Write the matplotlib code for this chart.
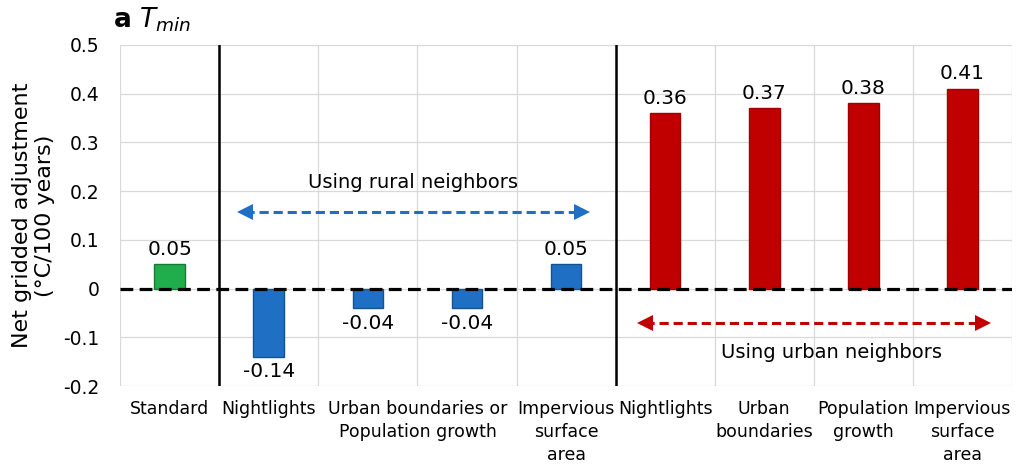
import matplotlib.pyplot as plt
import numpy as np

plt.rcParams['font.family'] = ['DejaVu Sans']

# Bars and values
values = [0.05, -0.14, -0.04, -0.04, 0.05, 0.36, 0.37, 0.38, 0.41]
labels = ['0.05', '-0.14', '-0.04', '-0.04', '0.05', '0.36', '0.37', '0.38', '0.41']
groups = ['std', 'rural', 'rural', 'rural', 'rural', 'urban', 'urban', 'urban', 'urban']

# Category tick labels (one label shared by bars 2 and 3)
tick_pos = [0, 1, 2.5, 4, 5, 6, 7, 8]
categories = ['Standard', 'Nightlights', 'Urban boundaries or\nPopulation growth',
              'Impervious\nsurface\narea', 'Nightlights', 'Urban\nboundaries',
              'Population\ngrowth', 'Impervious\nsurface\narea']

face = {'std': '#1fae4b', 'rural': '#1f6fc5', 'urban': '#c00000'}
edge = {'std': '#157a34', 'rural': '#15528f', 'urban': '#a00000'}

fig = plt.figure(figsize=(10.19, 4.68), dpi=100)
ax = fig.add_axes([0.118, 0.175, 0.875, 0.729])

x = np.arange(len(values))
ax.bar(x, values, width=0.31,
       color=[face[g] for g in groups],
       edgecolor=[edge[g] for g in groups], linewidth=1, zorder=3)

for xi, v, lab in zip(x, values, labels):
    if v >= 0:
        ax.annotate(lab, (xi, v), xytext=(0, 4), textcoords='offset points',
                    ha='center', va='bottom', fontsize=14.5)
    else:
        ax.annotate(lab, (xi, v), xytext=(0, -4), textcoords='offset points',
                    ha='center', va='top', fontsize=14.5)

ax.set_xlim(-0.5, len(values) - 0.5)
ax.set_ylim(-0.2, 0.5)
ax.set_yticks(np.arange(-0.2, 0.51, 0.1))
ax.set_yticklabels(['-0.2', '-0.1', '0', '0.1', '0.2', '0.3', '0.4', '0.5'], fontsize=13.5)

# grid
for yv in np.arange(-0.2, 0.51, 0.1):
    ax.axhline(yv, color='#d9d9d9', linewidth=0.9, zorder=0)
for xv in np.arange(-0.5, len(values), 1.0):
    ax.axvline(xv, color='#d9d9d9', linewidth=0.9, zorder=0)

# separators
ax.axvline(0.5, color='black', linewidth=1.8, zorder=4)
ax.axvline(4.5, color='black', linewidth=1.8, zorder=4)

# zero line
ax.axhline(0, color='black', linewidth=2.3, linestyle=(0, (4, 2)), zorder=5)


# double-headed dashed arrows: dashed shaft + solid triangle heads
def dashed_arrow(x0, x1, y, color, ms):
    head = 0.075
    ax.plot([x0 + head, x1 - head], [y, y], color=color, lw=2.2,
            linestyle=(0, (3, 1.6)), zorder=4, solid_capstyle='butt')
    ax.plot([x0 + head], [y], marker='<', ms=ms, color=color, mew=0, zorder=4)
    ax.plot([x1 - head], [y], marker='>', ms=ms, color=color, mew=0, zorder=4)


dashed_arrow(0.68, 4.24, 0.158, '#1f6fc5', 11)
ax.text(2.46, 0.218, 'Using rural neighbors', ha='center', va='center', fontsize=14)

dashed_arrow(4.72, 8.28, -0.07, '#c00000', 12)
ax.text(6.68, -0.132, 'Using urban neighbors', ha='center', va='center', fontsize=14)

ax.set_xticks(tick_pos)
ax.set_xticklabels(categories, fontsize=12.5, linespacing=1.35)
ax.tick_params(axis='both', length=0)
ax.tick_params(axis='x', pad=10)
ax.tick_params(axis='y', pad=15)
for s in ax.spines.values():
    s.set_visible(False)

ax.set_ylabel('Net gridded adjustment\n(°C/100 years)', fontsize=16, linespacing=1.2,
              labelpad=6)

fig.text(0.111, 0.928, r'$\mathbf{a}$ $T_{min}$', fontsize=19, ha='left', va='bottom')

fig.savefig('out.png', dpi=100, facecolor='white')
